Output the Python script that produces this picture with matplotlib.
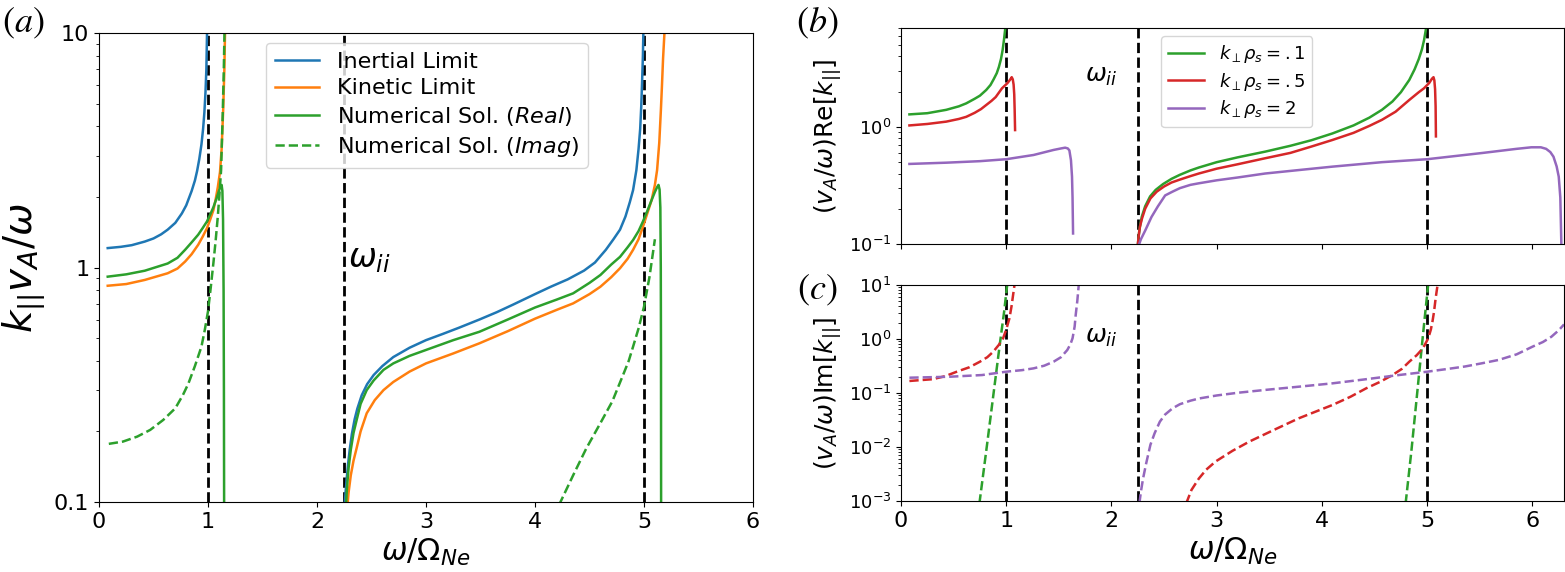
import matplotlib
matplotlib.use("Agg")
import matplotlib.pyplot as plt
from matplotlib.ticker import NullFormatter

# ---------------- Panel (a) data ----------------
a_inertial_x1 = [0.08, 0.2, 0.3, 0.42, 0.5, 0.57, 0.63, 0.70, 0.76, 0.80, 0.85, 0.88, 0.90, 0.92, 0.94, 0.955,
                 0.967, 0.977, 0.985, 0.992]
a_inertial_y1 = [1.21, 1.225, 1.245, 1.29, 1.33, 1.385, 1.45, 1.55, 1.70, 1.84, 2.12, 2.35, 2.58, 2.9, 3.35, 3.9,
                 4.6, 5.6, 7.0, 10.5]
a_kinetic_x1 = [0.08, 0.25, 0.42, 0.63, 0.72, 0.79, 0.85, 0.91, 0.95, 0.99, 1.02, 1.05, 1.07, 1.09, 1.11, 1.125,
                1.14, 1.15, 1.157]
a_kinetic_y1 = [0.836, 0.85, 0.885, 0.945, 0.99, 1.06, 1.14, 1.25, 1.35, 1.47, 1.6, 1.76, 1.95, 2.2, 2.55, 3.2,
                4.8, 7.0, 10.5]
a_real_x1 = [0.08, 0.25, 0.42, 0.63, 0.72, 0.79, 0.85, 0.91, 0.95, 0.99, 1.02, 1.05, 1.08, 1.10, 1.115, 1.125,
             1.132, 1.138, 1.143, 1.146, 1.148]
a_real_y1 = [0.914, 0.935, 0.969, 1.04, 1.1, 1.19, 1.28, 1.38, 1.47, 1.57, 1.68, 1.81, 1.98, 2.12, 2.22, 2.25,
             2.12, 1.6, 0.8, 0.3, 0.09]
a_imag_x1 = [0.09, 0.22, 0.35, 0.47, 0.59, 0.70, 0.77, 0.82, 0.88, 0.94, 0.97, 1.0, 1.025, 1.05, 1.07, 1.09,
             1.105, 1.12, 1.135, 1.145, 1.152]
a_imag_y1 = [0.177, 0.181, 0.19, 0.203, 0.224, 0.251, 0.286, 0.32, 0.38, 0.46, 0.54, 0.65, 0.82, 1.05, 1.3, 1.65,
             2.05, 2.6, 4.5, 7.0, 10.5]

a_inertial_x2 = [2.253, 2.262, 2.272, 2.285, 2.30, 2.32, 2.345, 2.37, 2.41, 2.46, 2.52, 2.60, 2.70, 2.85, 3.00,
                 3.15, 3.30, 3.49, 3.65, 3.80, 4.00, 4.15, 4.30, 4.45, 4.55, 4.65, 4.72, 4.78, 4.83, 4.87, 4.90,
                 4.93, 4.95, 4.965, 4.975, 4.983, 4.99, 4.995]
a_inertial_y2 = [0.095, 0.11, 0.125, 0.145, 0.167, 0.195, 0.225, 0.25, 0.285, 0.318, 0.348, 0.38, 0.415, 0.455, 0.49,
                 0.52, 0.553, 0.60, 0.645, 0.695, 0.77, 0.83, 0.89, 0.97, 1.05, 1.19, 1.32, 1.45, 1.65, 1.9, 2.14,
                 2.6, 3.2, 3.9, 4.9, 6.3, 8.0, 10.5]
a_real_x2 = [2.265, 2.275, 2.29, 2.31, 2.335, 2.364, 2.40, 2.456, 2.52, 2.61, 2.70, 2.85, 3.00, 3.25, 3.49, 3.75,
             4.00, 4.20, 4.35, 4.50, 4.60, 4.70, 4.78, 4.85, 4.90, 4.95, 4.99, 5.03, 5.07, 5.10, 5.12, 5.133,
             5.143, 5.15, 5.154, 5.156, 5.157]
a_real_y2 = [0.095, 0.115, 0.14, 0.167, 0.197, 0.224, 0.262, 0.30, 0.33, 0.366, 0.39, 0.42, 0.445, 0.49, 0.532, 0.6,
             0.675, 0.73, 0.776, 0.86, 0.929, 1.03, 1.11, 1.22, 1.31, 1.43, 1.57, 1.74, 1.94, 2.1, 2.2, 2.25,
             2.15, 1.8, 1.0, 0.4, 0.09]
a_kinetic_x2 = [2.278, 2.29, 2.31, 2.335, 2.364, 2.40, 2.456, 2.53, 2.61, 2.70, 2.85, 3.00, 3.25, 3.49, 3.75, 4.00,
                4.20, 4.35, 4.50, 4.60, 4.70, 4.78, 4.85, 4.90, 4.95, 4.99, 5.03, 5.07, 5.10, 5.12, 5.14, 5.155,
                5.165, 5.175, 5.19]
a_kinetic_y2 = [0.095, 0.11, 0.13, 0.15, 0.17, 0.2, 0.239, 0.272, 0.30, 0.325, 0.36, 0.39, 0.43, 0.475, 0.535, 0.605,
                0.66, 0.703, 0.77, 0.828, 0.91, 0.993, 1.09, 1.19, 1.32, 1.49, 1.7, 1.94, 2.25, 2.6, 3.4, 4.7,
                6.0, 7.8, 10.5]
a_imag_x2 = [4.22, 4.35, 4.47, 4.60, 4.71, 4.81, 4.86, 4.90, 4.95, 5.00, 5.05, 5.10]
a_imag_y2 = [0.097, 0.13, 0.169, 0.217, 0.269, 0.35, 0.40, 0.46, 0.55, 0.68, 0.91, 1.32]

# ---------------- Panel (b) data: (v_A/w) Re[k] ----------------
b_k01_x1 = [0.08, 0.25, 0.43, 0.55, 0.62, 0.70, 0.75, 0.81, 0.85, 0.88, 0.91, 0.93, 0.95, 0.965, 0.978, 0.988, 0.995]
b_k01_y1 = [1.28, 1.31, 1.40, 1.50, 1.59, 1.74, 1.85, 2.07, 2.28, 2.55, 2.88, 3.25, 3.8, 4.5, 5.5, 6.6, 7.5]
b_k05_x1 = [0.08, 0.25, 0.43, 0.55, 0.62, 0.70, 0.76, 0.81, 0.86, 0.90, 0.96, 1.01, 1.035, 1.052, 1.062, 1.07,
            1.076, 1.08, 1.084]
b_k05_y1 = [1.03, 1.06, 1.11, 1.17, 1.22, 1.32, 1.42, 1.54, 1.67, 1.8, 2.14, 2.36, 2.52, 2.66, 2.55, 2.3,
            1.9, 1.4, 0.94]
b_k2_x1 = [0.08, 0.43, 0.75, 1.0, 1.26, 1.45, 1.52, 1.56, 1.585, 1.60, 1.615, 1.625, 1.63, 1.635]
b_k2_y1 = [0.483, 0.495, 0.51, 0.53, 0.576, 0.636, 0.655, 0.665, 0.655, 0.63, 0.52, 0.376, 0.25, 0.123]

b_k01_x2 = [2.25, 2.26, 2.27, 2.288, 2.32, 2.367, 2.42, 2.49, 2.57, 2.65, 2.75, 2.83, 3.0, 3.2, 3.46, 3.7, 3.9,
            4.10, 4.3, 4.45, 4.57, 4.67, 4.75, 4.83, 4.88, 4.92, 4.95, 4.97, 4.985, 4.995]
b_k01_y2 = [0.098, 0.12, 0.14, 0.171, 0.21, 0.255, 0.29, 0.325, 0.36, 0.39, 0.425, 0.45, 0.50, 0.55, 0.615, 0.69, 0.77,
            0.88, 1.03, 1.2, 1.40, 1.65, 1.98, 2.52, 3.1, 3.8, 4.6, 5.5, 6.6, 7.5]
b_k05_x2 = [2.25, 2.26, 2.27, 2.29, 2.32, 2.37, 2.43, 2.5, 2.57, 2.65, 2.75, 2.83, 3.0, 3.2, 3.46, 3.7, 3.9, 4.10,
            4.3, 4.45, 4.57, 4.7, 4.83, 4.92, 4.97, 5.02, 5.045, 5.06, 5.068, 5.075, 5.08, 5.083]
b_k05_y2 = [0.098, 0.12, 0.14, 0.165, 0.2, 0.245, 0.28, 0.31, 0.335, 0.355, 0.38, 0.40, 0.44, 0.48, 0.54, 0.6, 0.68,
            0.774, 0.89, 1.02, 1.15, 1.35, 1.70, 1.98, 2.14, 2.38, 2.58, 2.66, 2.5, 2.1, 1.5, 0.83]
b_k2_x2 = [2.26, 2.28, 2.32, 2.38, 2.44, 2.51, 2.58, 2.65, 2.75, 2.83, 3.0, 3.2, 3.46, 3.8, 4.10, 4.57, 5.0, 5.53,
           5.85, 5.99, 6.08, 6.13, 6.17, 6.2, 6.23, 6.25, 6.265, 6.275]
b_k2_y2 = [0.098, 0.11, 0.13, 0.17, 0.209, 0.26, 0.28, 0.30, 0.32, 0.33, 0.35, 0.37, 0.40, 0.43, 0.458, 0.50, 0.53,
           0.60, 0.65, 0.67, 0.67, 0.65, 0.61, 0.557, 0.46, 0.376, 0.25, 0.098]

# ---------------- Panel (c) data: (v_A/w) Im[k] ----------------
c_k01_x1 = [0.745, 0.82, 0.88, 0.94, 0.98, 1.01]
c_k01_y1 = [0.0009, 0.012, 0.1, 0.83, 3.2, 10.5]
c_k05_x1 = [0.08, 0.3, 0.42, 0.53, 0.65, 0.75, 0.82, 0.876, 0.93, 0.97, 1.0, 1.03, 1.05, 1.065, 1.08]
c_k05_y1 = [0.167, 0.18, 0.205, 0.248, 0.3, 0.38, 0.46, 0.58, 0.78, 1.03, 1.5, 2.4, 4.0, 6.5, 10.5]
c_k2_x1 = [0.08, 0.46, 0.77, 1.0, 1.15, 1.26, 1.36, 1.45, 1.52, 1.58, 1.61, 1.63, 1.65, 1.66, 1.675, 1.69]
c_k2_y1 = [0.192, 0.20, 0.215, 0.248, 0.265, 0.286, 0.32, 0.38, 0.46, 0.625, 0.8, 1.03, 1.7, 2.78, 5.0, 10.5]

c_k01_x2 = [4.795, 4.85, 4.91, 4.96, 5.01]
c_k01_y2 = [0.0009, 0.0085, 0.125, 1.2, 10.5]
c_k05_x2 = [2.71, 2.76, 2.83, 2.9, 2.99, 3.15, 3.31, 3.55, 3.78, 3.95, 4.10, 4.27, 4.42, 4.55, 4.67, 4.76, 4.83,
            4.90, 4.96, 5.01, 5.035, 5.05, 5.065, 5.08, 5.1]
c_k05_y2 = [0.0009, 0.0016, 0.0026, 0.0038, 0.0054, 0.0085, 0.0126, 0.021, 0.034, 0.046, 0.06, 0.085, 0.122, 0.16,
            0.215, 0.28, 0.38, 0.5, 0.675, 1.03, 1.5, 2.1, 3.2, 5.6, 10.5]
c_k2_x2 = [2.265, 2.28, 2.30, 2.33, 2.37, 2.41, 2.46, 2.51, 2.58, 2.65, 2.75, 2.83, 3.0, 3.2, 3.46, 3.8, 4.10, 4.4,
           4.73, 5.0, 5.2, 5.36, 5.52, 5.68, 5.85, 6.0, 6.1, 6.18, 6.25, 6.3]
c_k2_y2 = [0.0009, 0.0015, 0.0026, 0.005, 0.011, 0.018, 0.0295, 0.04, 0.052, 0.062, 0.072, 0.079, 0.09, 0.101, 0.114,
           0.132, 0.151, 0.178, 0.215, 0.248, 0.28, 0.31, 0.355, 0.41, 0.52, 0.72, 0.88, 1.1, 1.45, 1.86]

resonances = [1.0, 2.25, 5.0]
legend_a = ["Inertial Limit", "Kinetic Limit",
            r"Numerical Sol. ($\mathit{Real}$)", r"Numerical Sol. ($\mathit{Imag}$)"]
legend_b = [r"$k_\perp\rho_s=.1$", r"$k_\perp\rho_s=.5$", r"$k_\perp\rho_s=2$"]

C_BLUE, C_ORANGE, C_GREEN, C_RED, C_PURPLE = "#1f77b4", "#ff7f0e", "#2ca02c", "#d62728", "#9467bd"
LW = 1.8

W, H = 1565, 572
fig = plt.figure(figsize=(W / 100, H / 100), dpi=100)
ax_a = fig.add_axes([99 / W, 1 - 502 / H, 654 / W, 469 / H])
ax_b = fig.add_axes([901 / W, 1 - 244 / H, 663 / W, 216 / H])
ax_c = fig.add_axes([901 / W, 1 - 501 / H, 663 / W, 216 / H], sharex=ax_b)

# ---- (a)
for xv in resonances:
    ax_a.axvline(xv, color="k", ls="--", lw=2)
l1, = ax_a.plot(a_inertial_x1, a_inertial_y1, color=C_BLUE, lw=LW)
ax_a.plot(a_inertial_x2, a_inertial_y2, color=C_BLUE, lw=LW)
l2, = ax_a.plot(a_kinetic_x1, a_kinetic_y1, color=C_ORANGE, lw=LW)
ax_a.plot(a_kinetic_x2, a_kinetic_y2, color=C_ORANGE, lw=LW)
l3, = ax_a.plot(a_real_x1, a_real_y1, color=C_GREEN, lw=LW)
ax_a.plot(a_real_x2, a_real_y2, color=C_GREEN, lw=LW)
l4, = ax_a.plot(a_imag_x1, a_imag_y1, color=C_GREEN, lw=LW, ls="--")
ax_a.plot(a_imag_x2, a_imag_y2, color=C_GREEN, lw=LW, ls="--")
ax_a.set_yscale("log")
ax_a.set_xlim(0, 6)
ax_a.set_ylim(0.1, 10)
ax_a.set_yticks([0.1, 1, 10])
ax_a.set_yticklabels(["0.1", "1", "10"])
ax_a.yaxis.set_minor_formatter(NullFormatter())
ax_a.set_xticks(range(7))
ax_a.tick_params(labelsize=16)
ax_a.set_xlabel(r"$\omega/\Omega_{Ne}$", fontsize=22)
ax_a.set_ylabel(r"$k_{||}v_A/\omega$", fontsize=28)
ax_a.text(2.28, 1.0, r"$\omega_{ii}$", fontsize=24, va="baseline", ha="left")
ax_a.legend([l1, l2, l3, l4], legend_a, fontsize=16, loc="upper left",
            bbox_to_anchor=(0.255, 0.979), borderaxespad=0, labelspacing=0.3)

# ---- (b)
for xv in resonances:
    ax_b.axvline(xv, color="k", ls="--", lw=2)
g1, = ax_b.plot(b_k01_x1, b_k01_y1, color=C_GREEN, lw=LW)
ax_b.plot(b_k01_x2, b_k01_y2, color=C_GREEN, lw=LW)
g2, = ax_b.plot(b_k05_x1, b_k05_y1, color=C_RED, lw=LW)
ax_b.plot(b_k05_x2, b_k05_y2, color=C_RED, lw=LW)
g3, = ax_b.plot(b_k2_x1, b_k2_y1, color=C_PURPLE, lw=LW)
ax_b.plot(b_k2_x2, b_k2_y2, color=C_PURPLE, lw=LW)
ax_b.set_yscale("log")
ax_b.set_ylim(0.1, 7)
ax_b.set_xlim(0, 6.3)
ax_b.yaxis.set_minor_formatter(NullFormatter())
ax_b.tick_params(labelbottom=False, labelsize=13)
ax_b.set_ylabel(r"$(v_A/\omega)\mathrm{Re}[k_{||}]$", fontsize=18)
ax_b.text(1.75, 2.43, r"$\omega_{ii}$", fontsize=18, va="baseline", ha="left")
ax_b.legend([g1, g2, g3], legend_b, fontsize=13, loc="upper left",
            bbox_to_anchor=(0.392, 0.963), borderaxespad=0, labelspacing=0.3)

# ---- (c)
for xv in resonances:
    ax_c.axvline(xv, color="k", ls="--", lw=2)
ax_c.plot(c_k01_x1, c_k01_y1, color=C_GREEN, lw=LW, ls="--")
ax_c.plot(c_k01_x2, c_k01_y2, color=C_GREEN, lw=LW, ls="--")
ax_c.plot(c_k05_x1, c_k05_y1, color=C_RED, lw=LW, ls="--")
ax_c.plot(c_k05_x2, c_k05_y2, color=C_RED, lw=LW, ls="--")
ax_c.plot(c_k2_x1, c_k2_y1, color=C_PURPLE, lw=LW, ls="--")
ax_c.plot(c_k2_x2, c_k2_y2, color=C_PURPLE, lw=LW, ls="--")
ax_c.set_yscale("log")
ax_c.set_ylim(1e-3, 10)
ax_c.set_xlim(0, 6.3)
ax_c.set_xticks(range(7))
ax_c.yaxis.set_minor_formatter(NullFormatter())
ax_c.tick_params(axis="y", labelsize=13)
ax_c.tick_params(axis="x", labelsize=16)
ax_c.set_xlabel(r"$\omega/\Omega_{Ne}$", fontsize=22)
ax_c.set_ylabel(r"$(v_A/\omega)\mathrm{Im}[k_{||}]$", fontsize=18)
ax_c.text(1.75, 0.84, r"$\omega_{ii}$", fontsize=18, va="baseline", ha="left")

# panel labels
for lab, px, py in [("(a)", 23, 23), ("(b)", 817, 23), ("(c)", 817, 290)]:
    fig.text(px / W, 1 - py / H, "$" + lab + "$", fontsize=26, math_fontfamily="stix",
             ha="center", va="center")

fig.savefig("out.png", dpi=100)
